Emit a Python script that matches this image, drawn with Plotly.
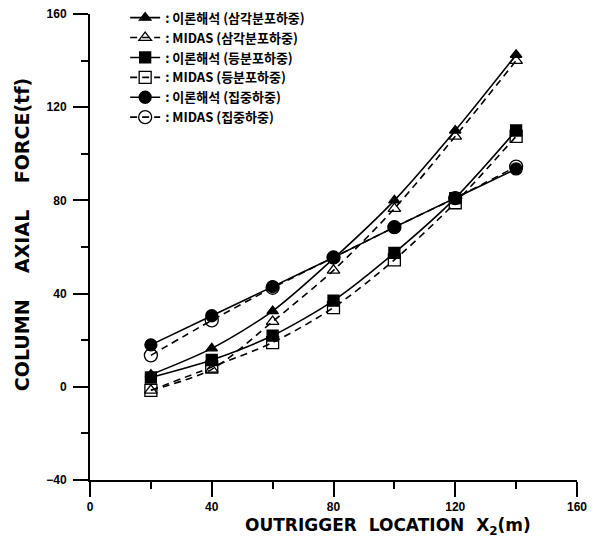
import plotly.graph_objects as go

x_loc = [20, 40, 60, 80, 100, 120, 140]
theory_tri = [5.2, 16.5, 32.5, 55.0, 80.0, 110.0, 142.5]
midas_tri = [-1.5, 7.5, 28.0, 50.0, 76.5, 107.5, 140.0]
theory_uni = [4.0, 11.5, 22.0, 37.0, 57.5, 81.0, 110.0]
midas_uni = [-1.5, 8.5, 19.0, 34.0, 54.5, 79.0, 107.5]
theory_conc = [18.0, 30.5, 43.0, 55.5, 68.5, 81.0, 93.5]
midas_conc = [13.5, 28.5, 42.5, 55.5, 68.5, 81.0, 94.5]

names = [": 이론해석 (삼각분포하중)", ": MIDAS (삼각분포하중)",
         ": 이론해석 (등분포하중)", ": MIDAS (등분포하중)",
         ": 이론해석 (집중하중)", ": MIDAS (집중하중)"]
series = [theory_tri, midas_tri, theory_uni, midas_uni, theory_conc, midas_conc]
symbols = ["triangle-up", "triangle-up-open", "square", "square-open", "circle", "circle-open"]
sizes = [10, 11, 11, 12, 12, 13]
dashes = ["solid", "7px,5px", "solid", "7px,5px", "solid", "7px,5px"]

x_ticks = [0, 40, 80, 120, 160]
x_minor = [20, 60, 100, 140]
y_ticks = [-40, 0, 40, 80, 120, 160]
y_minor = [-20, 20, 60, 100, 140]

fig = go.Figure()
for nm, ys, sym, sz, ds in zip(names, series, symbols, sizes, dashes):
    fig.add_trace(go.Scatter(
        x=x_loc, y=ys, name=nm, mode="lines+markers",
        line=dict(color="black", width=1.6, dash=ds, shape="spline", smoothing=0.8),
        marker=dict(symbol=sym, size=sz, color="black", line=dict(color="black", width=1.3)),
    ))

tickfont = dict(family="Liberation Sans", size=12, color="black", weight="bold")
fig.update_layout(
    width=596, height=539,
    margin=dict(l=90, r=19, t=14, b=59, autoexpand=False),
    paper_bgcolor="white", plot_bgcolor="white",
    showlegend=True,
    legend=dict(xref="container", yref="container", x=0.21, y=0.995,
                xanchor="left", yanchor="top",
                font=dict(family="Noto Sans CJK KR", size=13, color="black", weight="bold"),
                bgcolor="rgba(0,0,0,0)", itemwidth=30, tracegroupgap=0),
    xaxis=dict(range=[0, 160], tickvals=x_ticks,
               ticks="outside", ticklen=15, tickwidth=2, tickcolor="black",
               minor=dict(tickvals=x_minor, ticks="outside", ticklen=7,
                          tickwidth=2, tickcolor="black"),
               showline=True, linecolor="black", linewidth=2, showgrid=False,
               zeroline=False, tickfont=tickfont),
    yaxis=dict(range=[-40, 160], tickvals=y_ticks,
               ticks="outside", ticklen=15, tickwidth=2, tickcolor="black",
               minor=dict(tickvals=y_minor, ticks="outside", ticklen=7,
                          tickwidth=2, tickcolor="black"),
               showline=True, linecolor="black", linewidth=2, showgrid=False,
               zeroline=False, tickfont=tickfont, ticklabelstandoff=4),
    annotations=[
        dict(text="OUTRIGGER  LOCATION  X<sub>2</sub>(m)", xref="paper", yref="paper",
             x=0.612, y=-0.1, xanchor="center", yanchor="middle", showarrow=False,
             font=dict(family="DejaVu Sans", size=17, color="black", weight="bold")),
        dict(text="COLUMN    AXIAL    FORCE(tf)", xref="paper", yref="paper",
             x=-0.138, y=0.527, xanchor="center", yanchor="middle", showarrow=False,
             textangle=-90,
             font=dict(family="DejaVu Sans", size=19, color="black", weight="bold")),
    ],
)

fig.write_html("out.html")
